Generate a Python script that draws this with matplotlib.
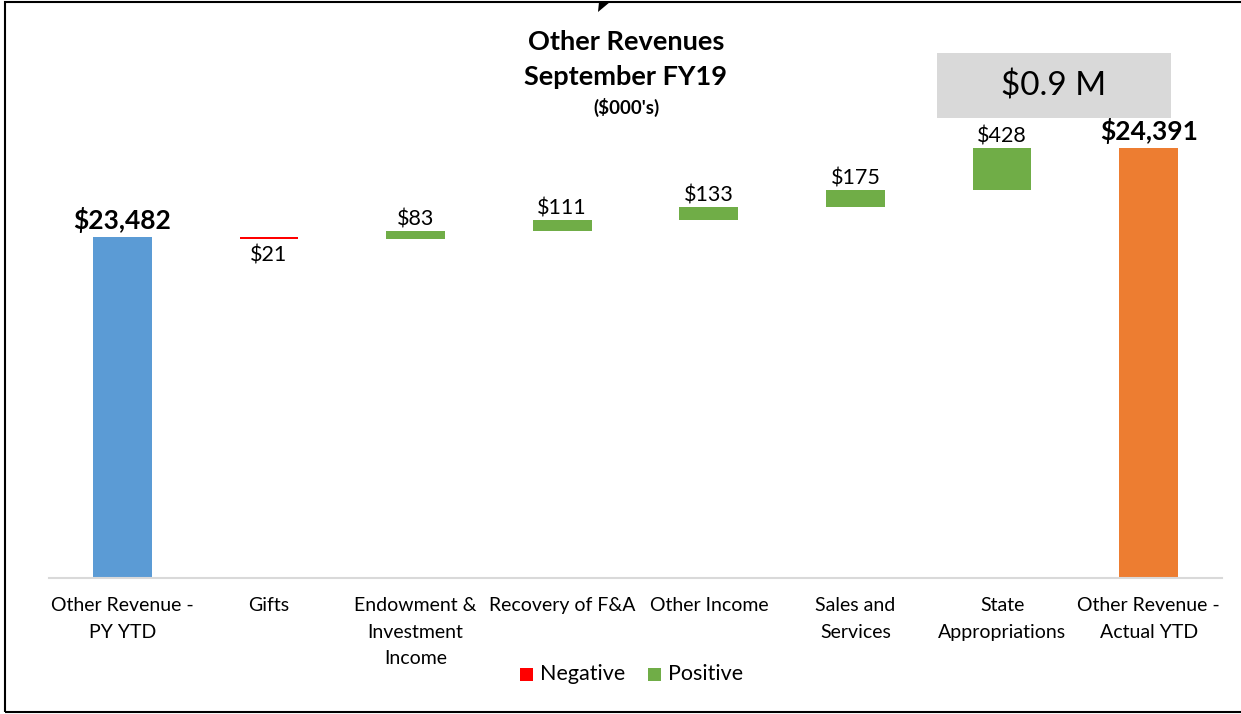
import matplotlib.pyplot as plt
from matplotlib.patches import Rectangle, Polygon

plt.rcParams['font.family'] = ['Lato', 'DejaVu Sans']

# data ($000's)
categories = ['Other Revenue -\nPY YTD', 'Gifts', 'Endowment &\nInvestment\nIncome',
              'Recovery of F&A', 'Other Income', 'Sales and\nServices',
              'State\nAppropriations', 'Other Revenue -\nActual YTD']
start_total = 23482
changes = [-21, 83, 111, 133, 175, 428]
end_total = 24391
change_labels = ['$21', '$83', '$111', '$133', '$175', '$428']
total_labels = ['$23,482', '$24,391']
delta_text = '$0.9 M'

BLUE = '#5B9BD5'
ORANGE = '#ED7D31'
GREEN = '#70AD47'
RED = '#FF0000'
BASE = 20000

fig = plt.figure(figsize=(12.41, 7.14), dpi=100)
ax = fig.add_axes([49 / 1241, 136 / 714, (1222 - 49) / 1241, (578 - 88) / 714])
ax.set_xlim(-0.5, 7.5)
ax.set_ylim(BASE, 25000)

w = 0.4
# totals
ax.bar(0, start_total - BASE, bottom=BASE, width=w, color=BLUE)
ax.bar(7, end_total - BASE, bottom=BASE, width=w, color=ORANGE)
ax.text(0, start_total + 40, total_labels[0], ha='center', va='bottom',
        fontsize=19, fontweight='bold')
ax.text(7, end_total + 40, total_labels[1], ha='center', va='bottom',
        fontsize=19, fontweight='bold')

# changes
level = start_total
for i, (c, lab) in enumerate(zip(changes, change_labels), start=1):
    lo = min(level, level + c)
    color = GREEN if c >= 0 else RED
    ax.bar(i, abs(c), bottom=lo, width=w, color=color)
    if c >= 0:
        ax.text(i, level + c + 10, lab, ha='center', va='bottom', fontsize=15.5)
    else:
        ax.text(i, level + c - 70, lab, ha='center', va='top', fontsize=15.5)
    level += c

ax.set_xticks(range(len(categories)))
ax.set_xticklabels(categories, fontsize=14, linespacing=1.65, va='top')
ax.tick_params(axis='x', length=0, pad=14)
ax.set_yticks([])
for s in ['top', 'right', 'left']:
    ax.spines[s].set_visible(False)
ax.spines['bottom'].set_color('#D9D9D9')
ax.spines['bottom'].set_linewidth(1.5)

# title
fig.text(626 / 1241, 1 - 42 / 714, 'Other Revenues', ha='center', va='center',
         fontsize=19.5, fontweight='bold')
fig.text(626 / 1241, 1 - 77 / 714, 'September FY19', ha='center', va='center',
         fontsize=19.5, fontweight='bold')
fig.text(626 / 1241, 1 - 107 / 714, "($000's)", ha='center', va='center',
         fontsize=13.5, fontweight='bold')

# delta box
fig.patches.append(Rectangle((937 / 1241, 1 - 118 / 714), (1171 - 937) / 1241, 65 / 714,
                             transform=fig.transFigure, facecolor='#D9D9D9',
                             edgecolor='none'))
fig.text(1054 / 1241, 1 - 86 / 714, delta_text, ha='center', va='center', fontsize=24)

# legend
fig.patches.append(Rectangle((520 / 1241, 1 - 681 / 714), 13 / 1241, 13 / 714,
                             transform=fig.transFigure, facecolor=RED, edgecolor='none'))
fig.text(540 / 1241, 1 - 674 / 714, 'Negative', ha='left', va='center', fontsize=15.5)
fig.patches.append(Rectangle((648 / 1241, 1 - 681 / 714), 13 / 1241, 13 / 714,
                             transform=fig.transFigure, facecolor=GREEN, edgecolor='none'))
fig.text(668 / 1241, 1 - 674 / 714, 'Positive', ha='left', va='center', fontsize=15.5)

# frame and small marker at top
fig.patches.append(Rectangle((5 / 1241, 2 / 714), 1.0, 1 - 4 / 714,
                             transform=fig.transFigure, facecolor='none',
                             edgecolor='black', linewidth=1.5))
fig.patches.append(Polygon([(598 / 1241, 1 - 12 / 714), (599 / 1241, 1 - 2 / 714),
                            (610 / 1241, 1 - 2 / 714)], closed=True,
                           transform=fig.transFigure, facecolor='black',
                           edgecolor='none'))

plt.savefig('out.png', dpi=100)
